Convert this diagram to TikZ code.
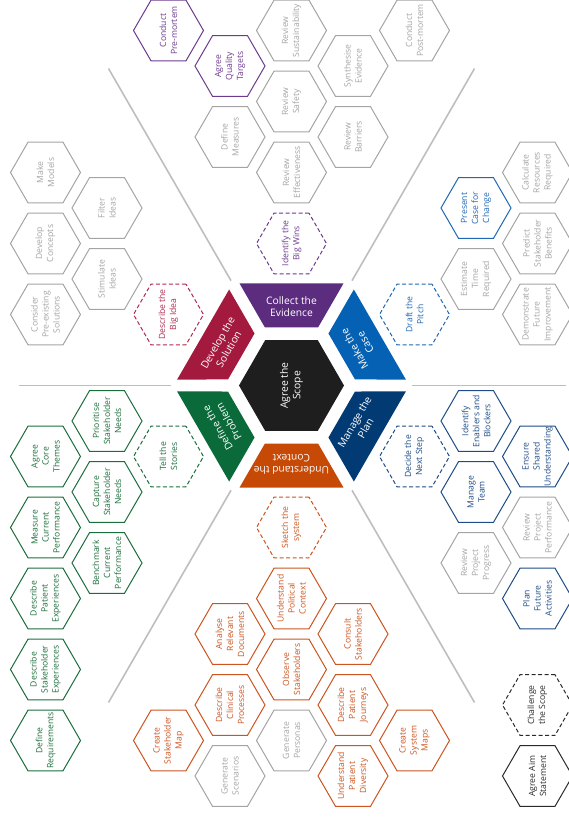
\documentclass[tikz,border=0pt]{standalone}
\usepackage{fontspec}
\setmainfont{Open Sans}
\usetikzlibrary{shapes.geometric}
\definecolor{evid}{HTML}{5C2D7E}
\definecolor{casec}{HTML}{0561B4}
\definecolor{planc}{HTML}{023B74}
\definecolor{contextc}{HTML}{C64906}
\definecolor{problemc}{HTML}{0A6A39}
\definecolor{solutionc}{HTML}{A41A3E}
\definecolor{scopec}{HTML}{1E1E1E}
\definecolor{hidle}{HTML}{A4A4A4}
\definecolor{hpurp}{HTML}{6C3A8E}
\definecolor{hblue}{HTML}{1F66B3}
\definecolor{hnavy}{HTML}{1D4C86}
\definecolor{horange}{HTML}{CB5420}
\definecolor{hgreen}{HTML}{1C6D3C}
\definecolor{hcrim}{HTML}{AF2A4E}
\definecolor{haim}{HTML}{2A2A2A}
\definecolor{rulec}{HTML}{BEBEBE}
\newcommand\hxfont{\fontsize{8.6}{11}\selectfont}

\begin{document}
\begin{tikzpicture}[x=61.5pt,y=35.5pt,
	hx/.style 2 args={regular polygon,regular polygon sides=6,minimum size=70pt,inner sep=0pt,draw=#1,line width=1pt,
		label={[rotate=90,align=center,text=#1,font=\hxfont]center:#2}},
	dhx/.style 2 args={hx={#1}{#2},dash pattern=on 4pt off 2.5pt},
	phase/.style={text=white,align=center,font=\fontsize{10.3}{12.6}\selectfont},
	sep/.style={rulec,line width=1.6pt}]
		\useasboundingbox (-291.5pt,-435.5pt) rectangle (276.5pt,385.5pt);
		\foreach \a in {60,120,240,300} \draw[sep] (\a:121pt) -- (\a:366pt);
		\draw[sep] (180:120pt) -- (180:272pt);
		\draw[sep] (0:120pt) -- (0:274pt);
		\node[regular polygon,regular polygon sides=6,minimum size=105pt,inner sep=0pt,fill=scopec,
			label={[phase,rotate=90]center:Agree the\\Scope}] (scope) at (0,0) {};
		\foreach \a/\col/\rot/\name/\txt in {90/evid/0/collect/{Collect the\\Evidence},30/casec/120/makecase/{Make the\\Case},
			-30/planc/60/manage/{Manage the\\Plan},-90/contextc/180/understand/{Understand the\\Context},
			-150/problemc/120/define/{Define the\\Problem},150/solutionc/60/develop/{Develop the\\Solution}}
			\fill[\col] (\a-27:114.5pt) -- (\a+27:114.5pt) -- (\a+24.6:63.8pt) -- (\a-24.6:63.8pt) -- cycle
				node[phase,rotate=\rot] (\name) at (\a:79pt) {\txt};

		\node[hx={hpurp}{Conduct\\Pre-mortem}] (premortem) at (-2,10) {};
		\node[hx={hpurp}{Agree\\Quality\\Targets}] (targets) at (-1,9) {};
		\node[hx={hidle}{Define\\Measures}] (measures) at (-1,7) {};
		\node[hx={hidle}{Review\\Sustainability}] (sustain) at (0,10) {};
		\node[hx={hidle}{Review\\Safety}] (safety) at (0,8) {};
		\node[hx={hidle}{Review\\Effectiveness}] (effective) at (0,6) {};
		\node[dhx={hpurp}{Identify the\\Big Wins}] (bigwins) at (0,4) {};
		\node[hx={hidle}{Synthesise\\Evidence}] (synth) at (1,9) {};
		\node[hx={hidle}{Review\\Barriers}] (barriers) at (1,7) {};
		\node[hx={hidle}{Conduct\\Post-mortem}] (postmortem) at (2,10) {};

		\node[hx={hidle}{Make\\Models}] (models) at (-4,6) {};
		\node[hx={hidle}{Filter\\Ideas}] (filter) at (-3,5) {};
		\node[hx={hidle}{Develop\\Concepts}] (concepts) at (-4,4) {};
		\node[hx={hidle}{Stimulate\\Ideas}] (stimulate) at (-3,3) {};
		\node[hx={hidle}{Consider\\Pre-existing\\Solutions}] (existing) at (-4,2) {};
		\node[dhx={hcrim}{Describe the\\Big Idea}] (bigidea) at (-2,2) {};

		\node[dhx={hblue}{Draft the\\Pitch}] (pitch) at (2,2) {};
		\node[hx={hblue}{Present\\Case for\\Change}] (present) at (3,5) {};
		\node[hx={hidle}{Estimate\\Time\\Required}] (esttime) at (3,3) {};
		\node[hx={hidle}{Calculate\\Resources\\Required}] (resources) at (4,6) {};
		\node[hx={hidle}{Predict\\Stakeholder\\Benefits}] (benefits) at (4,4) {};
		\node[hx={hidle}{Demonstrate\\Future\\Improvement}] (improve) at (4,2) {};

		\node[dhx={hnavy}{Decide the\\Next Step}] (nextstep) at (2,-2) {};
		\node[hx={hnavy}{Identify\\Enablers and\\Blockers}] (enablers) at (3,-1) {};
		\node[hx={hnavy}{Manage\\Team}] (team) at (3,-3) {};
		\node[hx={hidle}{Review\\Project\\Progress}] (progress) at (3,-5) {};
		\node[hx={hnavy}{Ensure\\Shared\\Understanding}] (shared) at (4,-2) {};
		\node[hx={hidle}{Review\\Project\\Performance}] (projperf) at (4,-4) {};
		\node[hx={hnavy}{Plan\\Future\\Activities}] (future) at (4,-6) {};

		\node[dhx={hgreen}{Tell the\\Stories}] (stories) at (-2,-2) {};
		\node[hx={hgreen}{Prioritise\\Stakeholder\\Needs}] (prioritise) at (-3,-1) {};
		\node[hx={hgreen}{Capture\\Stakeholder\\Needs}] (capture) at (-3,-3) {};
		\node[hx={hgreen}{Benchmark\\Current\\Performance}] (benchmark) at (-3,-5) {};
		\node[hx={hgreen}{Agree\\Core\\Themes}] (themes) at (-4,-2) {};
		\node[hx={hgreen}{Measure\\Current\\Performance}] (measure) at (-4,-4) {};
		\node[hx={hgreen}{Describe\\Patient\\Experiences}] (patientexp) at (-4,-6) {};
		\node[hx={hgreen}{Describe\\Stakeholder\\Experiences}] (stakeexp) at (-4,-8) {};
		\node[hx={hgreen}{Define\\Requirements}] (requirements) at (-4,-10) {};

		\node[dhx={horange}{Sketch the\\system}] (sketch) at (0,-4) {};
		\node[hx={horange}{Understand\\Political\\Context}] (political) at (0,-6) {};
		\node[hx={horange}{Observe\\Stakeholders}] (observe) at (0,-8) {};
		\node[hx={hidle}{Generate\\Personas}] (personas) at (0,-10) {};
		\node[hx={horange}{Analyse\\Relevant\\Documents}] (documents) at (-1,-7) {};
		\node[hx={horange}{Describe\\Clinical\\Processes}] (clinical) at (-1,-9) {};
		\node[hx={hidle}{Generate\\Scenarios}] (scenarios) at (-1,-11) {};
		\node[hx={horange}{Consult\\Stakeholders}] (consult) at (1,-7) {};
		\node[hx={horange}{Describe\\Patient\\Journeys}] (journeys) at (1,-9) {};
		\node[hx={horange}{Understand\\Patient\\Diversity}] (diversity) at (1,-11) {};
		\node[hx={horange}{Create\\Stakeholder\\Map}] (stakemap) at (-2,-10) {};
		\node[hx={horange}{Create\\System\\Maps}] (sysmaps) at (2,-10) {};

		\node[dhx={haim}{Challenge\\the Scope}] (challenge) at (4,-9) {};
		\node[hx={haim}{Agree Aim\\Statement}] (aimstate) at (4,-11) {};
\end{tikzpicture}
\end{document}
